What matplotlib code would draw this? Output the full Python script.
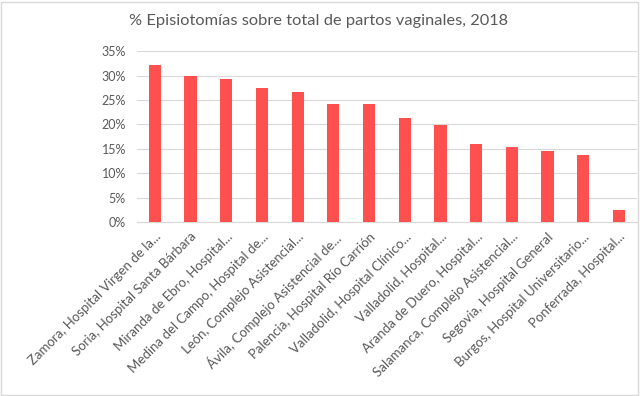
import matplotlib.pyplot as plt
from matplotlib.patches import Rectangle
from matplotlib.ticker import FuncFormatter

hospitales = [
    'Zamora, Hospital Virgen de la...',
    'Soria, Hospital Santa Bárbara',
    'Miranda de Ebro, Hospital...',
    'Medina del Campo, Hospital de...',
    'León, Complejo Asistencial...',
    'Ávila, Complejo Asistencial de...',
    'Palencia, Hospital Río Carrión',
    'Valladolid, Hospital Clínico...',
    'Valladolid, Hospital...',
    'Aranda de Duero, Hospital...',
    'Salamanca, Complejo Asistencial...',
    'Segovia, Hospital General',
    'Burgos, Hospital Universitario...',
    'Ponferrada, Hospital...',
]
episiotomias = [0.322, 0.300, 0.293, 0.275, 0.266, 0.242, 0.242,
                0.214, 0.199, 0.159, 0.154, 0.145, 0.138, 0.024]

plt.rcParams['font.family'] = ['Lato', 'DejaVu Sans']
gris = '#595959'

fig = plt.figure(figsize=(6.4, 3.96), dpi=100)
ax = fig.add_axes([0.214, 0.439, 0.781, 0.432])

ax.bar(range(len(hospitales)), episiotomias, width=0.34, color='#FF5050', zorder=3)

ax.set_ylim(0, 0.35)
ax.set_xlim(-0.5, len(hospitales) - 0.5)
ax.set_yticks([i * 0.05 for i in range(8)])
ax.yaxis.set_major_formatter(FuncFormatter(lambda v, p: f'{round(v * 100)}%'))
ax.grid(axis='y', color='#D9D9D9', linewidth=0.8, zorder=0)
ax.tick_params(axis='y', length=0, labelsize=9, labelcolor=gris, pad=8)
ax.tick_params(axis='x', length=0, labelsize=9.5, labelcolor=gris, pad=6)
ax.set_xticks(range(len(hospitales)))
ax.set_xticklabels(hospitales, rotation=45, ha='right', rotation_mode='anchor')
for s in ['top', 'right', 'left']:
    ax.spines[s].set_visible(False)
ax.spines['bottom'].set_color('#D9D9D9')

fig.text(0.497, 0.948, '% Episiotomías sobre total de partos vaginales, 2018',
         ha='center', va='center', fontsize=11.8, color=gris)

fig.patches.append(Rectangle((0.002, 0.003), 0.995, 0.993, transform=fig.transFigure,
                             fill=False, edgecolor='#D9D9D9', linewidth=1))

fig.savefig('out.png', dpi=100)
